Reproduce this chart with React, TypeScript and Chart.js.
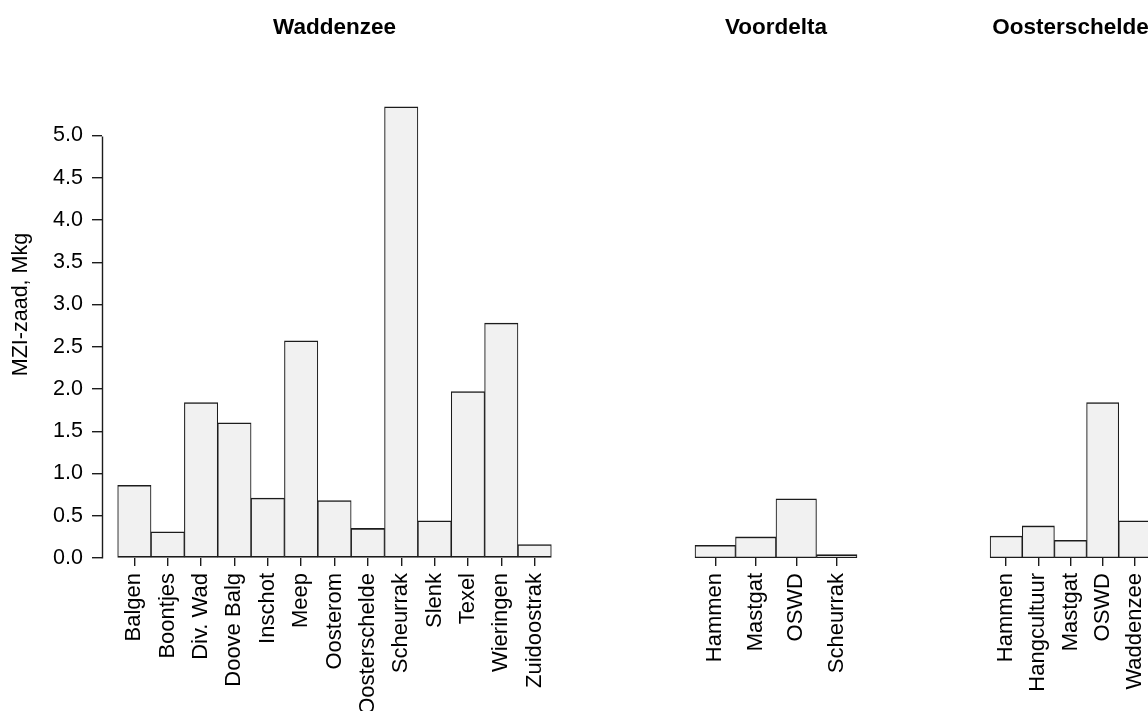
import { useEffect, useRef } from 'react';
import { Chart, registerables } from 'chart.js';

Chart.register(...registerables);

// MZI seed yield (million kg) per location, grouped by region
const waddenzeeSites = ['Balgen', 'Boontjes', 'Div. Wad', 'Doove Balg', 'Inschot', 'Meep', 'Oosterom', 'Oosterschelde', 'Scheurrak', 'Slenk', 'Texel', 'Wieringen', 'Zuidoostrak'];
const waddenzeeValues = [0.86, 0.31, 1.84, 1.6, 0.71, 2.57, 0.68, 0.35, 5.34, 0.44, 1.97, 2.78, 0.16];

const voordeltaSites = ['Hammen', 'Mastgat', 'OSWD', 'Scheurrak'];
const voordeltaValues = [0.15, 0.25, 0.7, 0.04];

const oosterscheldeSites = ['Hammen', 'Hangcultuur', 'Mastgat', 'OSWD', 'Waddenzee'];
const oosterscheldeValues = [0.26, 0.38, 0.21, 1.84, 0.44];

const yTickValues = [0, 0.5, 1, 1.5, 2, 2.5, 3, 3.5, 4, 4.5, 5];
const yLimit = 6;
const yAxisTitle = 'MZI-zaad, Mkg';

const FONT = "'Liberation Sans', Arial, Helvetica, sans-serif";
const PAGE_W = 1148;
const PAGE_H = 711;
const CANVAS_W = 1200;
const PLOT_BOTTOM = 558;
const PLOT_TOP = 51;
const X_PAD = 0.97; // extra room (in bar units) left and right of the bars
const INK = '#1c1c1c';
const TEXT = '#000';

type Panel = {
  title: string;
  sites: string[];
  values: number[];
  left: number;
  right: number;
  showY: boolean;
};

const panels: Panel[] = [
  { title: 'Waddenzee', sites: waddenzeeSites, values: waddenzeeValues, left: 102, right: 567, showY: true },
  { title: 'Voordelta', sites: voordeltaSites, values: voordeltaValues, left: 676, right: 876, showY: false },
  { title: 'Oosterschelde', sites: oosterscheldeSites, values: oosterscheldeValues, left: 975, right: 1166, showY: false },
];

// y axis line running only from the first to the last tick
const yAxisLine = {
  id: 'yAxisLine',
  afterDraw(chart: any) {
    const y = chart.scales.y;
    const { ctx, chartArea } = chart;
    const x = Math.round(chartArea.left) + 0.5;
    ctx.save();
    ctx.strokeStyle = INK;
    ctx.lineWidth = 1.4;
    ctx.beginPath();
    ctx.moveTo(x, Math.round(y.getPixelForValue(yTickValues[0])) + 0.5);
    ctx.lineTo(x, Math.round(y.getPixelForValue(yTickValues[yTickValues.length - 1])) + 0.5);
    ctx.stroke();
    ctx.restore();
  },
};

function PanelChart({ panel }: { panel: Panel }) {
  const ref = useRef<HTMLCanvasElement>(null);

  useEffect(() => {
    const canvas = ref.current;
    if (!canvas) return;
    const { title, sites, values, left, right, showY } = panel;
    const titleFontSize = 22.5;
    const titleTop = 14;
    const titleBottom = PLOT_TOP - titleTop - titleFontSize * 1.2;

    const chart = new Chart(canvas, {
      type: 'bar',
      data: {
        datasets: [
          {
            data: sites.map((_, i) => ({ x: i, y: values[i] })),
            backgroundColor: '#f1f1f1',
            borderColor: INK,
            borderWidth: { top: 1.6, bottom: 1.6, left: 1.1, right: 1.1 },
            borderSkipped: false,
            categoryPercentage: 1,
            barPercentage: 1,
          } as any,
        ],
      },
      options: {
        responsive: false,
        animation: false,
        events: [],
        layout: {
          padding: { left: showY ? 0 : left, right: CANVAS_W - right, top: 0, bottom: 0 },
        },
        plugins: {
          legend: { display: false },
          tooltip: { enabled: false },
          title: {
            display: true,
            text: title,
            fullSize: false,
            color: TEXT,
            font: { family: FONT, size: titleFontSize, weight: 'bold', lineHeight: 1.2 },
            padding: { top: titleTop, bottom: titleBottom },
          },
        },
        scales: {
          x: {
            type: 'linear',
            min: -X_PAD,
            max: sites.length - 1 + X_PAD,
            bounds: 'data',
            offset: false,
            border: { display: false },
            grid: {
              offset: false,
              drawOnChartArea: false,
              drawTicks: true,
              tickLength: 8,
              color: INK,
              lineWidth: 1.4,
            },
            ticks: {
              autoSkip: false,
              minRotation: 90,
              maxRotation: 90,
              padding: 7,
              color: TEXT,
              font: { family: FONT, size: 22 },
              callback: (v: any) => sites[v as number] ?? '',
            },
            afterBuildTicks: (s: any) => {
              s.ticks = sites.map((_, i) => ({ value: i }));
            },
            afterFit: (s: any) => {
              s.height = PAGE_H - PLOT_BOTTOM;
            },
          },
          y: {
            type: 'linear',
            display: showY,
            min: 0,
            max: yLimit,
            bounds: 'data',
            border: { display: false },
            grid: {
              drawOnChartArea: false,
              drawTicks: true,
              tickLength: 10,
              color: INK,
              lineWidth: 1.4,
            },
            ticks: {
              padding: 9,
              color: TEXT,
              font: { family: FONT, size: 21.5 },
              callback: (v: any) => Number(v).toFixed(1),
            },
            title: {
              display: true,
              text: yAxisTitle,
              color: TEXT,
              font: { family: FONT, size: 21.5, lineHeight: 1.2 },
              padding: { top: 8, bottom: 0 },
            },
            afterBuildTicks: (s: any) => {
              s.ticks = yTickValues.map((v) => ({ value: v }));
            },
            afterFit: (s: any) => {
              if (showY) s.width = left;
            },
          },
        },
      } as any,
      plugins: showY ? [yAxisLine] : [],
    });

    return () => chart.destroy();
  }, [panel]);

  return (
    <canvas
      ref={ref}
      width={CANVAS_W}
      height={PAGE_H}
      style={{ position: 'absolute', left: 0, top: 0 }}
    />
  );
}

export default function App() {
  return (
    <div
      style={{
        position: 'absolute',
        left: 0,
        top: 0,
        width: PAGE_W,
        height: PAGE_H,
        overflow: 'hidden',
        background: '#fff',
      }}
    >
      {panels.map((p) => (
        <PanelChart key={p.title} panel={p} />
      ))}
    </div>
  );
}
